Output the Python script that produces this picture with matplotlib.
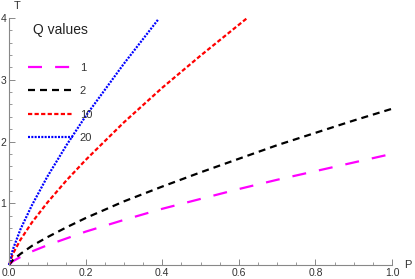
import matplotlib
matplotlib.use("Agg")
import matplotlib.pyplot as plt

# values (P, T) for each Q
p_low = [0, 0.01, 0.03, 0.06, 0.1, 0.15, 0.2, 0.3, 0.4, 0.5, 0.6, 0.7, 0.8, 0.9, 1.0]
t_q1 = [0, 0.06, 0.13, 0.22, 0.32, 0.43, 0.54, 0.73, 0.91, 1.07, 1.23, 1.38, 1.52, 1.66, 1.80]
t_q2 = [0, 0.08, 0.18, 0.31, 0.45, 0.61, 0.76, 1.03, 1.27, 1.50, 1.72, 1.94, 2.14, 2.34, 2.53]

p_q10 = [0, 0.01, 0.03, 0.06, 0.1, 0.15, 0.2, 0.3, 0.4, 0.5, 0.6, 0.62]
t_q10 = [0, 0.18, 0.41, 0.69, 1.01, 1.37, 1.70, 2.31, 2.87, 3.39, 3.89, 3.99]

p_q20 = [0, 0.01, 0.03, 0.06, 0.1, 0.15, 0.2, 0.3, 0.39]
t_q20 = [0, 0.25, 0.58, 0.97, 1.43, 1.94, 2.41, 3.26, 3.98]

q_labels = ['1', '2', '10', '20']

plt.rcParams['font.family'] = ['Liberation Sans', 'DejaVu Sans']

fig = plt.figure(figsize=(4.15, 2.79), dpi=100)
ax = fig.add_axes([9 / 415, 14 / 279, 383 / 415, 247 / 279])

lw = 1.6
l1, = ax.plot(p_low, t_q1, color='#ff00ff', lw=lw, dashes=(6.3, 5.9), clip_on=False)
l2, = ax.plot(p_low, t_q2, color='black', lw=lw, dashes=(3.15, 2.25), clip_on=False)
l3, = ax.plot(p_q10, t_q10, color='red', lw=lw, dashes=(1.9, 1.05), clip_on=False)
l4, = ax.plot(p_q20, t_q20, color='blue', lw=lw, dashes=(0.9, 0.6), clip_on=False)

ax.set_xlim(0, 1.0)
ax.set_ylim(0, 4)
for s in ['top', 'right']:
    ax.spines[s].set_visible(False)
for s in ['left', 'bottom']:
    ax.spines[s].set_color('#888888')
    ax.spines[s].set_linewidth(0.8)

ax.set_xticks([0, 0.2, 0.4, 0.6, 0.8, 1.0])
ax.set_xticklabels(['0.0', '0.2', '0.4', '0.6', '0.8', '1.0'])
ax.set_xticks([i * 0.05 for i in range(21)], minor=True)
ax.set_yticks([1, 2, 3, 4])
ax.set_yticks([i * 0.2 for i in range(21)], minor=True)
ax.tick_params(which='major', direction='in', length=4, width=0.7, color='#888888',
               labelsize=7.5, labelcolor='#333333', pad=2)
ax.tick_params(which='minor', direction='in', length=2.2, width=0.6, color='#888888')

fig.text(408 / 415, 1 - 265 / 279, 'P', fontsize=8, color='#333333', ha='center', va='center')
fig.text(17 / 415, 1 - 6 / 279, 'T', fontsize=8, color='#333333', ha='center', va='center')

# legend title placed by hand, entries below it
fig.text(33 / 415, 1 - 30 / 279, 'Q values', fontsize=10, color='#222222', ha='left', va='center')
leg = ax.legend([l1, l2, l3, l4], q_labels, loc='upper left',
                bbox_to_anchor=(28 / 415, 1 - 63 / 279), bbox_transform=fig.transFigure,
                frameon=False, fontsize=8, borderpad=0, borderaxespad=0,
                handlelength=4.05, labelspacing=1.2, handletextpad=0.6)
for t in leg.get_texts():
    t.set_color('#333333')

fig.savefig('out.png', dpi=100)
